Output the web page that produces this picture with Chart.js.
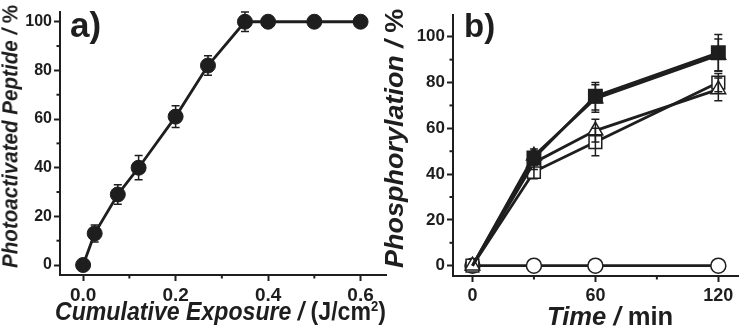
<!DOCTYPE html>
<html>
<head>
<meta charset="utf-8">
<script src="https://cdn.jsdelivr.net/npm/chart.js@4.4.1/dist/chart.umd.min.js"></script>
<style>
  html, body { margin: 0; padding: 0; background: #fff; }
  #wrap { position: relative; width: 752px; height: 333px; overflow: hidden;
          font-family: "Liberation Sans", Arial, sans-serif; color: #1e1e1e; font-weight: bold; }
  canvas { position: absolute; top: 0; }
  #cA { left: 0; }
  #cB { left: 376px; }
  .lbl { position: absolute; left: 0; top: 0; white-space: nowrap; line-height: 1; transform-origin: 0 0; }
  .it { font-style: italic; }
</style>
</head>
<body>
<div id="wrap">
  <canvas id="cA" width="400" height="333"></canvas>
  <canvas id="cB" width="376" height="333"></canvas>
  <div class="lbl" id="panelA" style="font-size:35px">a)</div>
  <div class="lbl" id="panelB" style="font-size:33px">b)</div>
  <div class="lbl" id="xTitleA" style="font-size:25px"><span class="it">Cumulative Exposure / </span>(J/cm<sup style="font-size:14px">2</sup>)</div>
  <div class="lbl" id="yTitleA" style="font-size:22px"><span class="it">Photoactivated Peptide / </span>%</div>
  <div class="lbl" id="xTitleB" style="font-size:25px"><span class="it">Time / </span>min</div>
  <div class="lbl" id="yTitleB" style="font-size:25px"><span class="it">Phosphorylation / </span>%</div>
</div>
<script>
// panel a) photoactivation vs cumulative exposure
const exposure = [0, 0.025, 0.075, 0.12, 0.2, 0.27, 0.35, 0.4, 0.5, 0.6];
const peptide = [0, 13, 29, 40, 61, 82, 100, 100, 100, 100];
const peptideErr = [1, 3.5, 4, 5, 4.5, 4, 4, 1, 0, 0];
const exposureTicks = [0, 0.2, 0.4, 0.6];
const exposureMinor = [0.1, 0.3, 0.5];
const peptideTicks = [0, 20, 40, 60, 80, 100];

// panel b) phosphorylation vs time
const timeMin = [0, 30, 60, 120];
const filledSquare = [0, 47, 74, 93];
const filledSquareErr = [0, 3, 6, 8];
const filledTriangle = [0, 48, 73, 92];
const filledTriangleErr = [0, 3, 6, 7];
const openTriangle = [0, 45, 59, 77];
const openTriangleErr = [0, 3, 5, 5];
const openSquare = [0, 41, 54, 80];
const openSquareErr = [0, 3, 6, 4];
const openCircle = [0, 0, 0, 0];
const timeTicks = [0, 60, 120];
const timeMinor = [30, 90];
const phosTicks = [0, 20, 40, 60, 80, 100];
const percentMinor = [10, 30, 50, 70, 90];

const INK = '#1e1e1e';
const FONT = '"Liberation Sans", Arial, sans-serif';

const errorBars = {
  id: 'errorBars',
  afterDatasetsDraw(chart) {
    const ctx = chart.ctx, ys = chart.scales.y;
    chart.data.datasets.forEach((ds, i) => {
      if (!ds.errors) return;
      const meta = chart.getDatasetMeta(i);
      ctx.save();
      ctx.strokeStyle = INK;
      ctx.lineWidth = 1.5;
      meta.data.forEach((pt, j) => {
        const e = ds.errors[j];
        if (!e) return;
        const v = ds.data[j].y;
        const top = ys.getPixelForValue(v + e), bot = ys.getPixelForValue(v - e);
        ctx.beginPath();
        ctx.moveTo(pt.x, top); ctx.lineTo(pt.x, bot);
        ctx.moveTo(pt.x - 4, top); ctx.lineTo(pt.x + 4, top);
        ctx.moveTo(pt.x - 4, bot); ctx.lineTo(pt.x + 4, bot);
        ctx.stroke();
      });
      ctx.restore();
    });
  }
};

const minorTicks = {
  id: 'minorTicks',
  afterDraw(chart, args, opts) {
    const ctx = chart.ctx, xs = chart.scales.x, ys = chart.scales.y;
    ctx.save();
    ctx.strokeStyle = INK;
    ctx.lineWidth = 2;
    (opts.x || []).forEach(v => {
      const p = xs.getPixelForValue(v);
      ctx.beginPath(); ctx.moveTo(p, xs.top); ctx.lineTo(p, xs.top + 3.5); ctx.stroke();
    });
    (opts.y || []).forEach(v => {
      const p = ys.getPixelForValue(v);
      ctx.beginPath(); ctx.moveTo(ys.right, p); ctx.lineTo(ys.right - 3.5, p); ctx.stroke();
    });
    ctx.restore();
  }
};

function axis(min, max, ticks, fmt, size, fitKey, fitVal, pad) {
  return {
    type: 'linear', min: min, max: max,
    afterBuildTicks: s => { s.ticks = ticks.map(v => ({ value: v })); },
    afterFit: s => { s[fitKey] = fitVal; },
    grid: { drawOnChartArea: false, drawTicks: true, tickLength: 6, tickWidth: 2, tickColor: INK },
    border: { color: INK, width: 2 },
    ticks: { color: INK, padding: pad, font: { family: FONT, size: size, weight: 'bold' },
             callback: fmt, autoSkip: false, maxRotation: 0 }
  };
}

function pts(xs, ys) { return xs.map((x, i) => ({ x: x, y: ys[i] })); }

new Chart(document.getElementById('cA'), {
  type: 'line',
  data: {
    datasets: [{
      data: pts(exposure, peptide), errors: peptideErr,
      borderColor: INK, borderWidth: 2.8, backgroundColor: INK,
      pointStyle: 'circle', pointRadius: 7.5, pointBorderWidth: 1,
      pointBackgroundColor: INK, pointBorderColor: INK, tension: 0
    }]
  },
  options: {
    responsive: false, animation: false,
    layout: { padding: { top: 12, right: 14, left: 0, bottom: 0 } },
    plugins: { legend: { display: false }, tooltip: { enabled: false },
               minorTicks: { x: exposureMinor, y: percentMinor } },
    scales: {
      x: axis(-0.05, 0.655, exposureTicks, v => v.toFixed(1), 19, 'height', 58, 3),
      y: axis(-4.1, 104, peptideTicks, v => String(v), 16, 'width', 60, 2)
    }
  },
  plugins: [errorBars, minorTicks]
});

function series(ys, errs, style, fill, radius) {
  return {
    data: pts(timeMin, ys), errors: errs,
    borderColor: INK, borderWidth: 2.8, backgroundColor: fill,
    pointStyle: style, pointRadius: radius, pointBorderWidth: 1.5,
    pointBackgroundColor: fill, pointBorderColor: INK, tension: 0
  };
}

new Chart(document.getElementById('cB'), {
  type: 'line',
  data: {
    datasets: [
      series(filledSquare, filledSquareErr, 'rect', INK, [0, 9.5, 9.5, 9.5]),
      series(filledTriangle, filledTriangleErr, 'triangle', INK, [0, 8.5, 8.5, 8.5]),
      series(openTriangle, openTriangleErr, 'triangle', '#fff', 8.5),
      series(openSquare, openSquareErr, 'rect', '#fff', 9),
      series(openCircle, null, 'circle', '#fff', 7.5)
    ]
  },
  options: {
    responsive: false, animation: false,
    layout: { padding: { top: 15, right: 14, left: 0, bottom: 0 } },
    plugins: { legend: { display: false }, tooltip: { enabled: false },
               minorTicks: { x: timeMinor, y: percentMinor } },
    scales: {
      x: axis(-9.5, 129.6, timeTicks, v => String(v), 18, 'height', 57, 3),
      y: axis(-4.5, 109.5, phosTicks, v => String(v), 17, 'width', 77, 2)
    }
  },
  plugins: [errorBars, minorTicks]
});

// titles: x/y = anchor, len = target text length in px
function place(id, x, y, len, rot) {
  const el = document.getElementById(id);
  const k = len ? len / el.offsetWidth : 1;
  el.style.transform = 'translate(' + x + 'px,' + y + 'px)' + (rot ? ' rotate(-90deg)' : '') + ' scaleX(' + k + ')';
}
place('panelA', 70, 7, 0, false);
place('panelB', 464, 9, 0, false);
place('xTitleA', 55, 299, 331, false);
place('xTitleB', 547, 304, 126, false);
place('yTitleA', -0.6, 268, 263, true);
place('yTitleB', 382, 268, 259, true);
</script>
</body>
</html>
